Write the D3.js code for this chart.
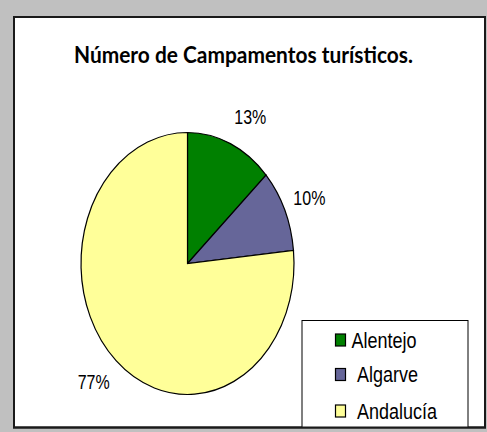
<!DOCTYPE html>
<html>
<head>
<meta charset="utf-8">
<script src="https://cdn.jsdelivr.net/npm/d3@7"></script>
<style>
  html, body { margin: 0; padding: 0; background: #c0c0c0; }
  svg { display: block; }
</style>
</head>
<body>
<svg id="chart" width="487" height="432"></svg>
<script>
const title = "Número de Campamentos turísticos.";
const categories = ["Alentejo", "Algarve", "Andalucía"];
const values = [13.2, 10.2, 76.6];
const colors = ["#008000", "#666699", "#FFFF99"];

const svg = d3.select("#chart");
const W = 487, H = 432;
const stretch = 1.23;

svg.append("rect").attr("x", 0).attr("y", 0).attr("width", W).attr("height", H).attr("fill", "#c0c0c0");
svg.append("rect").attr("x", 14).attr("y", 17).attr("width", 471).attr("height", 410.5)
  .attr("fill", "#ffffff").attr("stroke", "#1a1a1a").attr("stroke-width", 2);

// title
svg.append("g").attr("transform", `translate(243.5,63) scale(1,${stretch})`)
  .append("text")
  .attr("x", 0).attr("y", 0)
  .attr("text-anchor", "middle")
  .attr("font-family", "Lato, 'Open Sans', sans-serif")
  .attr("font-weight", "bold")
  .attr("font-size", 19)
  .attr("textLength", 339)
  .attr("lengthAdjust", "spacingAndGlyphs")
  .attr("fill", "#000")
  .text(title);

// pie
const cx = 187.5, cy = 263.5, r = 106.5;
const pie = d3.pie().sort(null).value(d => d)(values);
const arc = d3.arc().innerRadius(0).outerRadius(r);
const color = d3.scaleOrdinal().domain(categories).range(colors);

const pg = svg.append("g").attr("transform", `translate(${cx},${cy}) scale(1,${stretch})`);
pg.selectAll("path").data(pie).join("path")
  .attr("d", arc)
  .attr("fill", (d, i) => color(categories[i]))
  .attr("stroke", "#000")
  .attr("stroke-width", 1.2)
  .attr("vector-effect", "non-scaling-stroke");

// labels
const lrx = 116, lry = 160;
const fmt = v => Math.round(v) + "%";
svg.selectAll("g.lbl").data(pie).join("g").attr("class", "lbl")
  .attr("transform", d => {
    const a = (d.startAngle + d.endAngle) / 2;
    const x = cx + lrx * Math.sin(a);
    const y = cy - lry * Math.cos(a);
    return `translate(${x},${y}) scale(1,${stretch})`;
  })
  .append("text")
  .attr("text-anchor", d => Math.sin((d.startAngle + d.endAngle) / 2) >= 0 ? "start" : "end")
  .attr("dy", "0.36em")
  .attr("font-family", "'Liberation Sans', Arial, sans-serif")
  .attr("font-size", 16)
  .attr("fill", "#000")
  .text(d => fmt(d.data));

// legend
svg.append("rect").attr("x", 302).attr("y", 320.5).attr("width", 166).attr("height", 107)
  .attr("fill", "#fff").attr("stroke", "#000").attr("stroke-width", 1);
svg.append("line").attr("x1", 13).attr("x2", 486).attr("y1", 427.5).attr("y2", 427.5)
  .attr("stroke", "#1a1a1a").attr("stroke-width", 2);

const legendY = [340, 374.5, 411];
const legendTextX = [351.5, 357, 357];
const lg = svg.selectAll("g.leg").data(categories).join("g").attr("class", "leg")
  .attr("transform", (d, i) => `translate(0,${legendY[i]})`);
lg.append("rect")
  .attr("x", 335.5).attr("y", -6).attr("width", 10).attr("height", 12)
  .attr("fill", d => color(d)).attr("stroke", "#000").attr("stroke-width", 1.2);
lg.append("g").attr("transform", (d, i) => `translate(${legendTextX[i]},0) scale(1,${stretch})`)
  .append("text")
  .attr("dy", "0.36em")
  .attr("font-family", "'Liberation Sans', Arial, sans-serif")
  .attr("font-size", 18)
  .attr("fill", "#000")
  .text(d => d);
</script>
</body>
</html>
